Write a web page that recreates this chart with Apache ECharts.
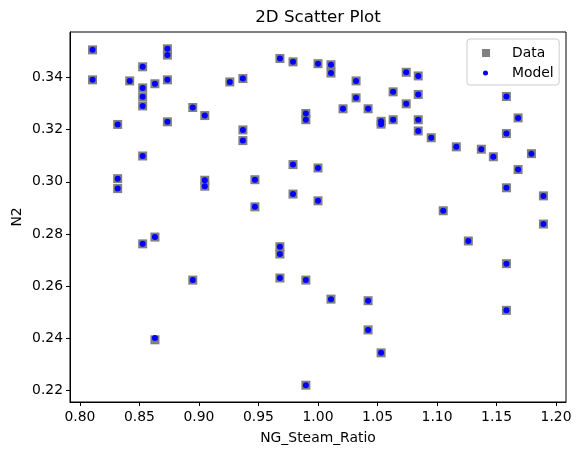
<!DOCTYPE html>
<html>
<head>
<meta charset="utf-8">
<script src="https://cdn.jsdelivr.net/npm/echarts@6/dist/echarts.min.js"></script>
<style>
  html, body { margin: 0; padding: 0; background: #fff; }
  #chart { width: 581px; height: 455px; }
</style>
</head>
<body>
<div id="chart"></div>
<script>
// NG_Steam_Ratio for each run
var ngSteamRatio = [
  0.8106, 0.8106, 0.8317, 0.8317, 0.8317, 0.8418,
  0.8527, 0.8527, 0.8527, 0.8527, 0.8527, 0.8527,
  0.8630, 0.8630, 0.8630, 0.8735, 0.8735, 0.8735, 0.8735,
  0.8948, 0.8948, 0.9049, 0.9049, 0.9049, 0.9259,
  0.9369, 0.9369, 0.9369, 0.9470, 0.9470,
  0.9680, 0.9680, 0.9680, 0.9680, 0.9790, 0.9790, 0.9790,
  0.9898, 0.9898, 0.9898, 0.9898, 1.0000, 1.0000, 1.0000,
  1.0109, 1.0109, 1.0109, 1.0210, 1.0320, 1.0320,
  1.0421, 1.0421, 1.0421, 1.0530, 1.0530, 1.0530,
  1.0631, 1.0631, 1.0741, 1.0741, 1.0842, 1.0842, 1.0842, 1.0842,
  1.0951, 1.1052, 1.1162, 1.1263, 1.1372, 1.1473,
  1.1583, 1.1583, 1.1583, 1.1583, 1.1583, 1.1681, 1.1681, 1.1793, 1.1894, 1.1894
];
// measured N2
var n2Data = [
  0.3506, 0.3391, 0.3220, 0.3012, 0.2974, 0.3387,
  0.3441, 0.3360, 0.3326, 0.3291, 0.3099, 0.2762,
  0.3376, 0.2788, 0.2394, 0.3510, 0.3486, 0.3391, 0.3230,
  0.3285, 0.2623, 0.3254, 0.3006, 0.2983, 0.3383,
  0.3396, 0.3199, 0.3158, 0.3008, 0.2904,
  0.3473, 0.2751, 0.2723, 0.2631, 0.3460, 0.3066, 0.2953,
  0.3262, 0.3238, 0.2623, 0.2220, 0.3453, 0.3053, 0.2927,
  0.3449, 0.3417, 0.2550, 0.3280, 0.3387, 0.3322,
  0.3280, 0.2544, 0.2432, 0.3232, 0.3221, 0.2344,
  0.3345, 0.3238, 0.3420, 0.3299, 0.3406, 0.3335, 0.3238, 0.3195,
  0.3169, 0.2889, 0.3134, 0.2773, 0.3125, 0.3096,
  0.3327, 0.3185, 0.2977, 0.2686, 0.2507, 0.3245, 0.3047, 0.3108, 0.2946, 0.2838
];
// model N2
var n2Model = [
  0.3506, 0.3391, 0.3220, 0.3012, 0.2974, 0.3387,
  0.3441, 0.3360, 0.3326, 0.3291, 0.3099, 0.2762,
  0.3376, 0.2788, 0.2401, 0.3510, 0.3486, 0.3391, 0.3230,
  0.3285, 0.2623, 0.3254, 0.3006, 0.2983, 0.3383,
  0.3396, 0.3199, 0.3158, 0.3008, 0.2904,
  0.3473, 0.2751, 0.2723, 0.2631, 0.3460, 0.3066, 0.2953,
  0.3262, 0.3238, 0.2623, 0.2220, 0.3453, 0.3053, 0.2927,
  0.3449, 0.3417, 0.2550, 0.3280, 0.3387, 0.3322,
  0.3280, 0.2544, 0.2432, 0.3232, 0.3221, 0.2344,
  0.3345, 0.3238, 0.3420, 0.3299, 0.3406, 0.3335, 0.3238, 0.3195,
  0.3169, 0.2889, 0.3134, 0.2773, 0.3125, 0.3096,
  0.3327, 0.3185, 0.2977, 0.2686, 0.2507, 0.3245, 0.3047, 0.3108, 0.2946, 0.2838
];
var xTicks = [0.80, 0.85, 0.90, 0.95, 1.00, 1.05, 1.10, 1.15, 1.20];
var yTicks = [0.22, 0.24, 0.26, 0.28, 0.30, 0.32, 0.34];

function pairs(xs, ys) {
  return xs.map(function (x, i) { return [x, ys[i]]; });
}

// 5% margin like matplotlib autoscale
function padRange(vals) {
  var lo = Math.min.apply(null, vals), hi = Math.max.apply(null, vals);
  var m = (hi - lo) * 0.05;
  return [lo - m, hi + m];
}
var xr = padRange(ngSteamRatio);
var yr = padRange(n2Data.concat(n2Model));

var font = 'DejaVu Sans';
var chart = echarts.init(document.getElementById('chart'));

// spacer in front of the legend text so it sits where matplotlib puts it
function legendText(gap) {
  return {
    fontFamily: font, fontSize: 13.9, color: '#000',
    rich: {
      g: { width: gap },
      t: { fontFamily: font, fontSize: 13.9, color: '#000' }
    }
  };
}

var option = {
  animation: false,
  title: {
    text: '2D Scatter Plot',
    left: 318,
    top: 9,
    padding: 0,
    textAlign: 'center',
    textStyle: { fontFamily: font, fontSize: 16.7, fontWeight: 'normal', color: '#000' }
  },
  legend: [
    {
      data: [{ name: 'Data', icon: 'rect' }],
      orient: 'vertical',
      left: 467,
      top: 39,
      padding: [7, 14, 25, 15],
      itemWidth: 8,
      itemHeight: 8,
      selectedMode: false,
      backgroundColor: 'rgba(255,255,255,0.8)',
      borderColor: '#cccccc',
      borderWidth: 1,
      borderRadius: 3,
      formatter: '{g|}{t|{name}}',
      textStyle: legendText(17),
      z: 4
    },
    {
      data: [{ name: 'Model', icon: 'circle' }],
      orient: 'vertical',
      left: 467,
      top: 66,
      padding: [0, 0, 0, 16],
      itemWidth: 5,
      itemHeight: 5,
      selectedMode: false,
      formatter: '{g|}{t|{name}}',
      textStyle: legendText(19),
      z: 6
    }
  ],
  grid: {
    left: 70, right: 15, top: 32, bottom: 53,
    outerBoundsMode: 'none',
    show: true,
    borderColor: '#000',
    borderWidth: 1
  },
  xAxis: {
    type: 'value',
    min: xr[0],
    max: xr[1],
    name: 'NG_Steam_Ratio',
    nameLocation: 'middle',
    nameGap: 29,
    nameMoveOverlap: false,
    nameTextStyle: { fontFamily: font, fontSize: 13.9, color: '#000' },
    axisLine: { lineStyle: { color: '#000', width: 1 } },
    axisTick: { show: true, inside: false, length: 4, customValues: xTicks, lineStyle: { color: '#000' } },
    axisLabel: {
      customValues: xTicks,
      margin: 8,
      fontFamily: font, fontSize: 13.9, color: '#000',
      formatter: function (v) { return v.toFixed(2); }
    },
    splitLine: { show: false }
  },
  yAxis: {
    type: 'value',
    min: yr[0],
    max: yr[1],
    name: 'N2',
    nameLocation: 'middle',
    nameRotate: 90,
    nameGap: 46,
    nameMoveOverlap: false,
    nameTextStyle: { fontFamily: font, fontSize: 13.9, color: '#000' },
    axisLine: { show: true, lineStyle: { color: '#000', width: 1 } },
    axisTick: { show: true, inside: false, length: 4, customValues: yTicks, lineStyle: { color: '#000' } },
    axisLabel: {
      customValues: yTicks,
      margin: 7,
      fontFamily: font, fontSize: 13.9, color: '#000',
      formatter: function (v) { return v.toFixed(2); }
    },
    splitLine: { show: false }
  },
  series: [
    {
      name: 'Data',
      type: 'scatter',
      symbol: 'rect',
      symbolSize: 9,
      itemStyle: { color: '#808080', opacity: 1 },
      data: pairs(ngSteamRatio, n2Data),
      z: 2
    },
    {
      name: 'Model',
      type: 'scatter',
      symbol: 'circle',
      symbolSize: 6,
      itemStyle: { color: '#0000ff', opacity: 1 },
      data: pairs(ngSteamRatio, n2Model),
      z: 3
    }
  ]
};

chart.setOption(option);
</script>
</body>
</html>
